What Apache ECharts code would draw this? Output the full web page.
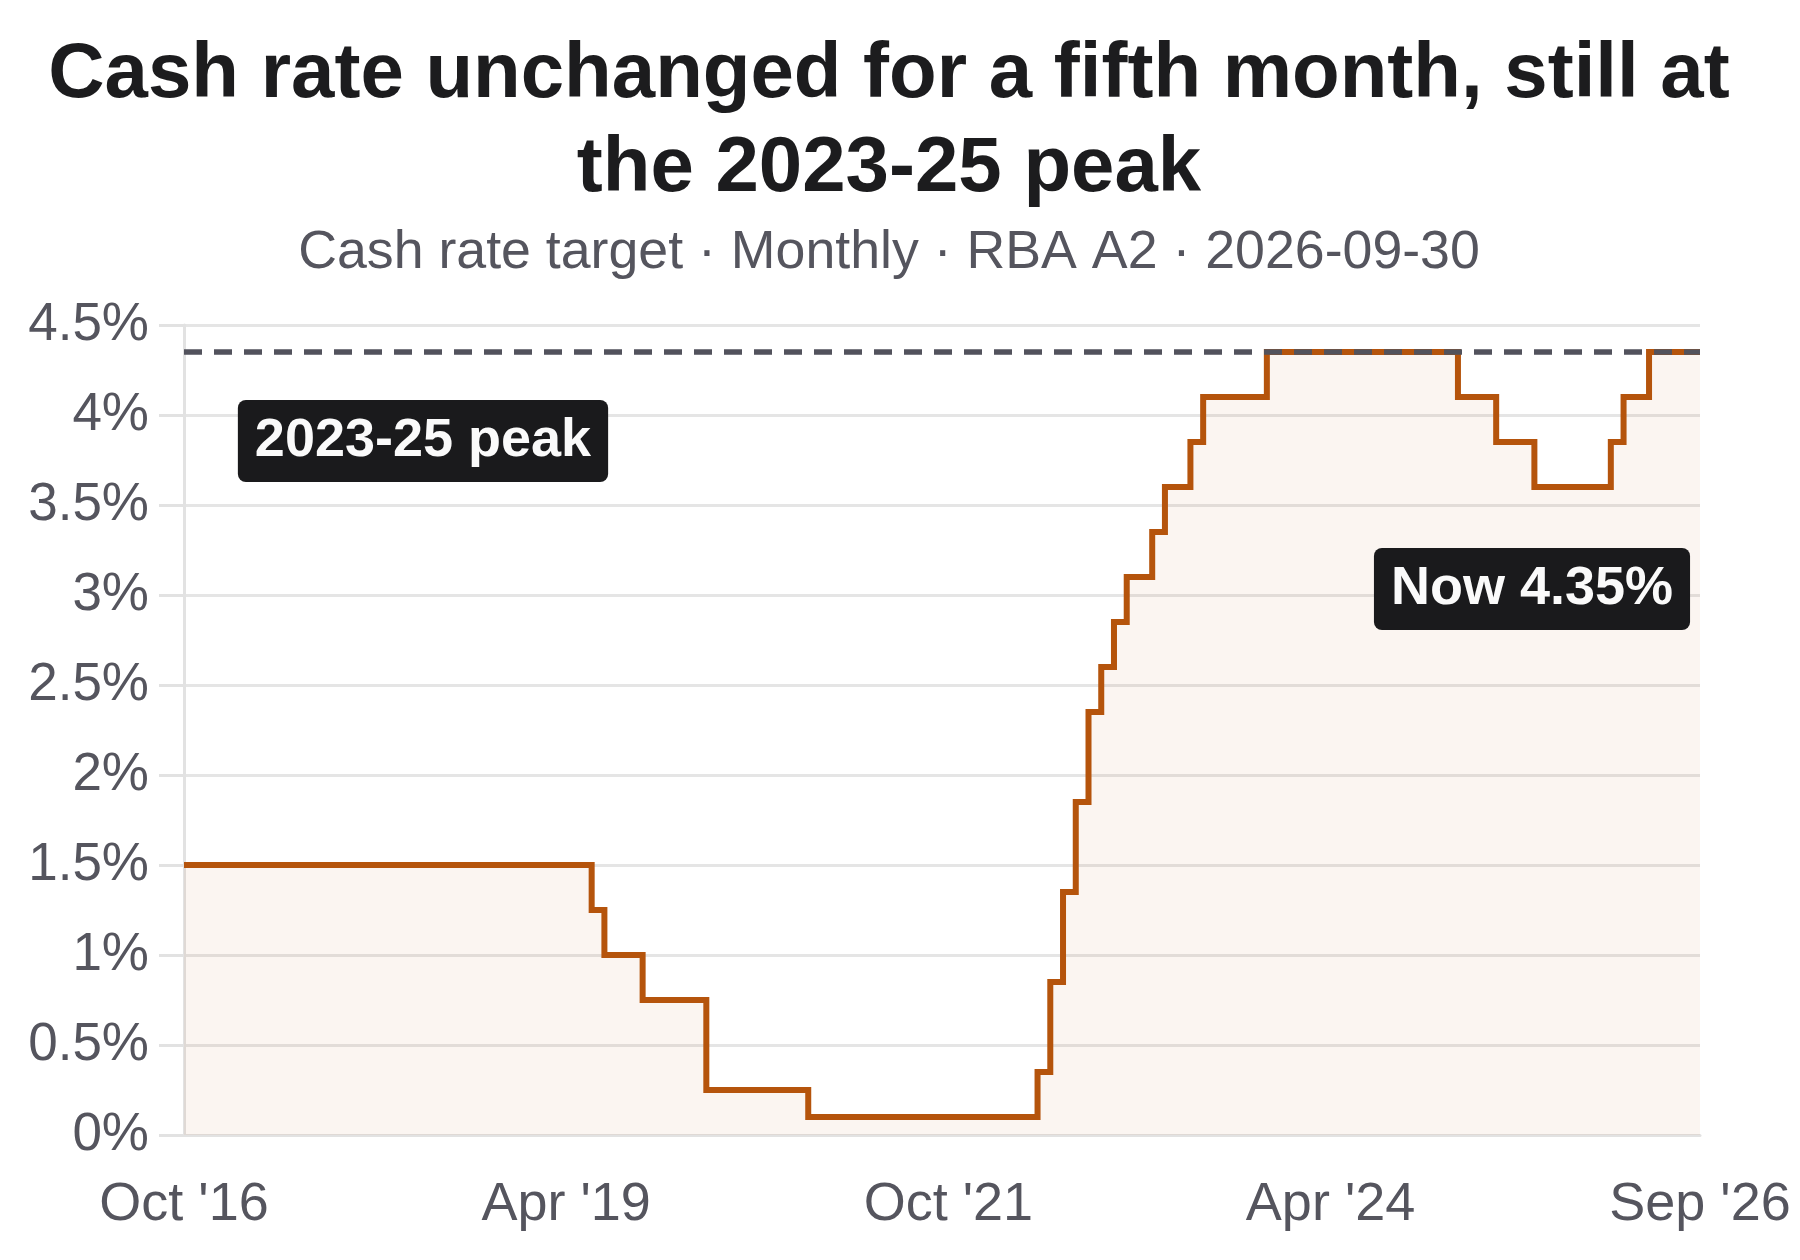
<!DOCTYPE html>
<html>
<head>
<meta charset="utf-8">
<script src="https://cdn.jsdelivr.net/npm/echarts@6/dist/echarts.min.js"></script>
<style>html,body{margin:0;padding:0;background:#ffffff}#chart{width:1800px;height:1260px}</style>
</head>
<body>
<div id="chart"></div>
<script>
// ---- Data ----
const months = [
  "Oct '16","Nov '16","Dec '16",
  "Jan '17","Feb '17","Mar '17","Apr '17","May '17","Jun '17","Jul '17","Aug '17","Sep '17","Oct '17","Nov '17","Dec '17",
  "Jan '18","Feb '18","Mar '18","Apr '18","May '18","Jun '18","Jul '18","Aug '18","Sep '18","Oct '18","Nov '18","Dec '18",
  "Jan '19","Feb '19","Mar '19","Apr '19","May '19","Jun '19","Jul '19","Aug '19","Sep '19","Oct '19","Nov '19","Dec '19",
  "Jan '20","Feb '20","Mar '20","Apr '20","May '20","Jun '20","Jul '20","Aug '20","Sep '20","Oct '20","Nov '20","Dec '20",
  "Jan '21","Feb '21","Mar '21","Apr '21","May '21","Jun '21","Jul '21","Aug '21","Sep '21","Oct '21","Nov '21","Dec '21",
  "Jan '22","Feb '22","Mar '22","Apr '22","May '22","Jun '22","Jul '22","Aug '22","Sep '22","Oct '22","Nov '22","Dec '22",
  "Jan '23","Feb '23","Mar '23","Apr '23","May '23","Jun '23","Jul '23","Aug '23","Sep '23","Oct '23","Nov '23","Dec '23",
  "Jan '24","Feb '24","Mar '24","Apr '24","May '24","Jun '24","Jul '24","Aug '24","Sep '24","Oct '24","Nov '24","Dec '24",
  "Jan '25","Feb '25","Mar '25","Apr '25","May '25","Jun '25","Jul '25","Aug '25","Sep '25","Oct '25","Nov '25","Dec '25",
  "Jan '26","Feb '26","Mar '26","Apr '26","May '26","Jun '26","Jul '26","Aug '26","Sep '26"
];
const cashRate = [
  1.5, 1.5, 1.5,
  1.5, 1.5, 1.5, 1.5, 1.5, 1.5, 1.5, 1.5, 1.5, 1.5, 1.5, 1.5,
  1.5, 1.5, 1.5, 1.5, 1.5, 1.5, 1.5, 1.5, 1.5, 1.5, 1.5, 1.5,
  1.5, 1.5, 1.5, 1.5, 1.5, 1.25, 1.0, 1.0, 1.0, 0.75, 0.75, 0.75,
  0.75, 0.75, 0.25, 0.25, 0.25, 0.25, 0.25, 0.25, 0.25, 0.25, 0.1, 0.1,
  0.1, 0.1, 0.1, 0.1, 0.1, 0.1, 0.1, 0.1, 0.1, 0.1, 0.1, 0.1,
  0.1, 0.1, 0.1, 0.1, 0.35, 0.85, 1.35, 1.85, 2.35, 2.6, 2.85, 3.1,
  3.1, 3.35, 3.6, 3.6, 3.85, 4.1, 4.1, 4.1, 4.1, 4.1, 4.35, 4.35,
  4.35, 4.35, 4.35, 4.35, 4.35, 4.35, 4.35, 4.35, 4.35, 4.35, 4.35, 4.35,
  4.35, 4.1, 4.1, 4.1, 3.85, 3.85, 3.85, 3.6, 3.6, 3.6, 3.6, 3.6,
  3.6, 3.85, 4.1, 4.1, 4.35, 4.35, 4.35, 4.35, 4.35
];
const tickLabels = ["Oct '16", "Apr '19", "Oct '21", "Apr '24", "Sep '26"];
const peakRate = 4.35;
const currentRate = 4.35;
const peakLabel = "2023-25 peak";
const nowLabel = "Now 4.35%";
const titleText = "Cash rate unchanged for a fifth month, still at\nthe 2023-25 peak";
const subtitleText = "Cash rate target · Monthly · RBA A2 · 2026-09-30";

// ---- Chart ----
const FONT = "'Liberation Sans', Arial, sans-serif";
const chart = echarts.init(document.getElementById('chart'), null, { renderer: 'canvas' });

const boxLabel = {
  show: true,
  position: 'inside',
  fontFamily: FONT,
  fontSize: 54,
  fontWeight: 'bold',
  color: '#fafafa',
  backgroundColor: '#1a1a1c',
  borderRadius: 8,
  padding: [16, 17, 12, 17],
  lineHeight: 54
};

chart.setOption({
  animation: false,
  backgroundColor: '#ffffff',
  title: [
    {
      text: titleText,
      left: 889,
      top: 28,
      padding: 0,
      textAlign: 'center',
      textStyle: { fontFamily: FONT, fontSize: 78, fontWeight: 'bold', color: '#1c1c1e', lineHeight: 94 }
    },
    {
      text: subtitleText,
      left: 889,
      top: 223,
      padding: 0,
      textAlign: 'center',
      textStyle: { fontFamily: FONT, fontSize: 53.7, fontWeight: 'normal', color: '#55555e', lineHeight: 60 }
    }
  ],
  grid: { left: 184, right: 100, top: 325, bottom: 125, containLabel: false },
  xAxis: {
    type: 'category',
    data: months,
    boundaryGap: false,
    axisLine: { show: true, lineStyle: { color: '#e2e2e2', width: 3 } },
    axisTick: { show: false },
    splitLine: { show: false },
    axisLabel: {
      interval: (idx, val) => tickLabels.indexOf(val) >= 0,
      margin: 43,
      fontFamily: FONT,
      fontSize: 54,
      lineHeight: 54,
      color: '#55555e',
      hideOverlap: false
    }
  },
  yAxis: {
    type: 'value',
    min: 0,
    max: 4.5,
    interval: 0.5,
    axisLine: { show: true, lineStyle: { color: '#e2e2e2', width: 3 } },
    axisTick: { show: true, length: 25, lineStyle: { color: '#e2e2e2', width: 3 } },
    splitLine: { show: true, lineStyle: { color: '#e5e5e5', width: 3 } },
    axisLabel: {
      margin: 35,
      fontFamily: FONT,
      fontSize: 53,
      padding: [5, 0, 0, 0],
      color: '#55555e',
      formatter: v => (Math.round(v * 10) / 10) + '%'
    }
  },
  series: [
    {
      type: 'line',
      name: 'Cash rate target',
      data: cashRate,
      step: 'end',
      symbol: 'none',
      lineStyle: { color: '#b5540c', width: 6, join: 'miter', cap: 'butt' },
      itemStyle: { color: '#b5540c' },
      areaStyle: { color: 'rgba(181,84,12,0.085)', origin: 'start' },
      markLine: {
        silent: true,
        symbol: ['none', 'none'],
        label: { show: false },
        lineStyle: { color: '#52525c', width: 5.5, type: [18, 12] },
        data: [{ yAxis: peakRate }]
      },
      markPoint: {
        silent: true,
        symbol: 'circle',
        symbolSize: 1,
        itemStyle: { color: 'rgba(0,0,0,0)' },
        data: [
          { coord: [months[0], peakRate], value: peakLabel,
            label: Object.assign({}, boxLabel, { formatter: peakLabel, offset: [239, 89] }) },
          { coord: [months[months.length - 1], currentRate], value: nowLabel,
            label: Object.assign({}, boxLabel, { formatter: nowLabel, offset: [-168, 237] }) }
        ]
      }
    }
  ]
});
</script>
</body>
</html>
